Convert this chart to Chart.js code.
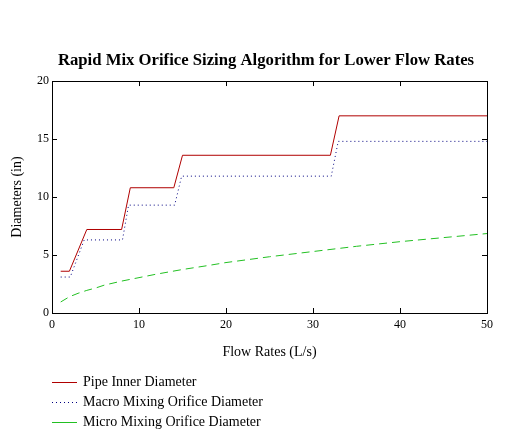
<!DOCTYPE html>
<html>
<head>
<meta charset="utf-8">
<title>Rapid Mix Orifice Sizing</title>
<script src="https://cdn.jsdelivr.net/npm/chart.js@4.4.1/dist/chart.umd.min.js"></script>
<style>
  html, body { margin: 0; padding: 0; background: #fff; }
  #wrap { width: 532px; height: 445px; }
</style>
</head>
<body>
<div id="wrap"><canvas id="grafico" width="532" height="445"></canvas></div>
<script>
// valores
const pipeX  = [1, 2, 4, 8, 9, 14, 15, 32, 33, 50];
const pipeY  = [3.6, 3.6, 7.2, 7.2, 10.8, 10.8, 13.6, 13.6, 17, 17];

const macroX = [1, 2.1, 3.7, 8.1, 8.8, 14.1, 14.9, 32.1, 32.9, 50];
const macroY = [3.1, 3.1, 6.3, 6.3, 9.3, 9.3, 11.8, 11.8, 14.8, 14.8];

const microX = [1, 2, 3, 4, 5, 6, 8, 10, 12, 15, 18, 20, 25, 30, 35, 40, 45, 50];
const microY = [0.95, 1.4, 1.7, 1.95, 2.15, 2.4, 2.75, 3.05, 3.35, 3.75, 4.1, 4.35, 4.85, 5.3, 5.75, 6.15, 6.5, 6.85];

const xTicks = [0, 10, 20, 30, 40, 50];
const yTicks = [0, 5, 10, 15, 20];

const SERIF = "'Liberation Serif', 'Times New Roman', serif";

function pontos(xs, ys) {
  return xs.map((x, i) => ({ x: x, y: ys[i] }));
}

// moldura com marcas para dentro nos quatro lados
const moldura = {
  id: 'moldura',
  afterDatasetsDraw(chart) {
    const { ctx, chartArea: a, scales } = chart;
    ctx.save();
    ctx.strokeStyle = '#000';
    ctx.lineWidth = 1;
    ctx.strokeRect(Math.round(a.left) + 0.5, Math.round(a.top) + 0.5,
      Math.round(a.right - a.left), Math.round(a.bottom - a.top));
    ctx.beginPath();
    xTicks.slice(1, -1).forEach((v) => {
      const px = Math.round(scales.x.getPixelForValue(v)) + 0.5;
      ctx.moveTo(px, a.top); ctx.lineTo(px, a.top + 5);
      ctx.moveTo(px, a.bottom); ctx.lineTo(px, a.bottom - 5);
    });
    yTicks.slice(1, -1).forEach((v) => {
      const py = Math.round(scales.y.getPixelForValue(v)) + 0.5;
      ctx.moveTo(a.left, py); ctx.lineTo(a.left + 5, py);
      ctx.moveTo(a.right, py); ctx.lineTo(a.right - 5, py);
    });
    ctx.stroke();
    ctx.restore();
  }
};

// legenda vertical embaixo, a esquerda
const legenda = {
  id: 'legenda',
  afterDraw(chart) {
    const ctx = chart.ctx;
    ctx.save();
    ctx.font = '14px ' + SERIF;
    ctx.textBaseline = 'middle';
    ctx.fillStyle = '#000';
    chart.data.datasets.forEach((ds, i) => {
      const y = 382.5 + i * 20;
      ctx.beginPath();
      ctx.strokeStyle = ds.borderColor;
      ctx.lineWidth = 1;
      ctx.setLineDash(ds.legendDash || []);
      ctx.moveTo(52, y); ctx.lineTo(77, y);
      ctx.stroke();
      ctx.setLineDash([]);
      ctx.fillText(ds.label, 83, y);
    });
    ctx.restore();
  }
};

new Chart(document.getElementById('grafico'), {
  type: 'line',
  data: {
    datasets: [
      { label: 'Pipe Inner Diameter', data: pontos(pipeX, pipeY),
        borderColor: '#b00000', borderWidth: 1, pointRadius: 0 },
      { label: 'Macro Mixing Orifice Diameter', data: pontos(macroX, macroY),
        borderColor: '#000080', borderWidth: 1, pointRadius: 0,
        borderDash: [1, 3], legendDash: [1, 3] },
      { label: 'Micro Mixing Orifice Diameter', data: pontos(microX, microY),
        borderColor: '#22c022', borderWidth: 1, pointRadius: 0,
        borderDash: [8, 5], legendDash: [] }
    ]
  },
  options: {
    responsive: false,
    animation: false,
    layout: { padding: 0 },
    plugins: {
      legend: { display: false },
      tooltip: { enabled: false },
      title: {
        display: true,
        text: 'Rapid Mix Orifice Sizing Algorithm for Lower Flow Rates',
        color: '#000',
        font: { family: SERIF, size: 16.7, weight: 'bold' },
        padding: { top: 51, bottom: 10 }
      }
    },
    scales: {
      x: {
        type: 'linear', min: 0, max: 50,
        grid: { display: false, drawTicks: false },
        border: { display: false },
        ticks: { stepSize: 10, color: '#000', padding: 5,
          font: { family: SERIF, size: 12 } },
        title: { display: true, text: 'Flow Rates (L/s)', color: '#000',
          font: { family: SERIF, size: 14 }, padding: { top: 0, bottom: 84 } },
        afterFit(s) { s.height = 132; }
      },
      y: {
        min: 0, max: 20,
        grid: { display: false, drawTicks: false },
        border: { display: false },
        ticks: { stepSize: 5, color: '#000', padding: 3,
          font: { family: SERIF, size: 12 } },
        title: { display: true, text: 'Diameters (in)', color: '#000',
          font: { family: SERIF, size: 14 }, padding: { top: 9, bottom: 0 } },
        afterFit(s) { s.width = 52; }
      },
      // eixo vazio a direita so para reservar a margem
      y2: {
        position: 'right', min: 0, max: 20,
        grid: { display: false, drawTicks: false },
        border: { display: false },
        ticks: { display: false },
        afterFit(s) { s.width = 45; }
      }
    }
  },
  plugins: [moldura, legenda]
});
</script>
</body>
</html>
